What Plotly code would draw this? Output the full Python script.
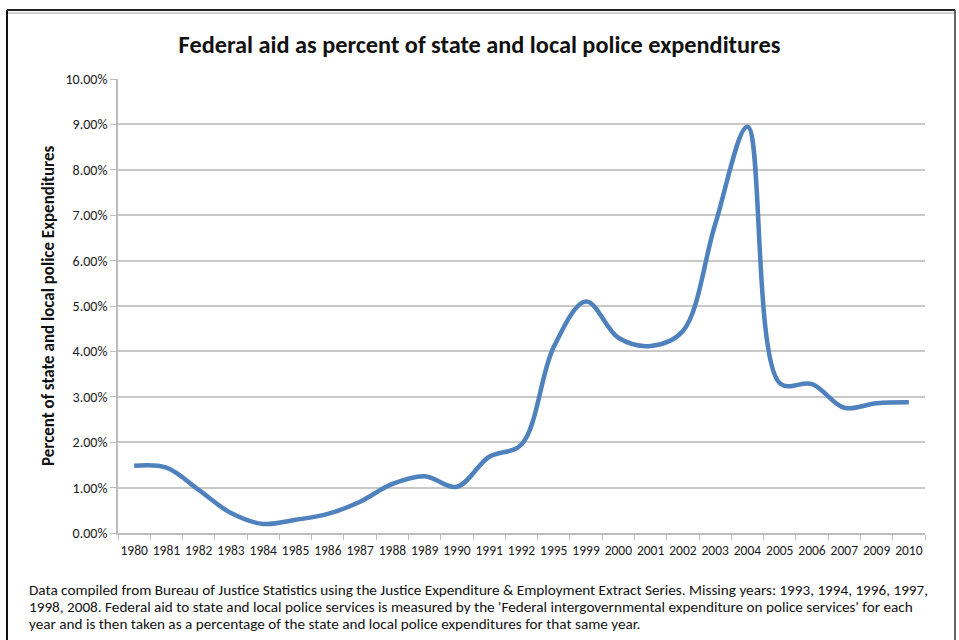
import plotly.graph_objects as go

# ---- data ----
years = ["1980", "1981", "1982", "1983", "1984", "1985", "1986", "1987", "1988",
         "1989", "1990", "1991", "1992", "1995", "1999", "2000", "2001", "2002",
         "2003", "2004", "2005", "2006", "2007", "2009", "2010"]
aid_pct = [1.48, 1.44, 0.95, 0.44, 0.20, 0.29, 0.42, 0.69, 1.08,
           1.25, 1.02, 1.68, 1.95, 4.10, 5.10, 4.30, 4.12, 4.45,
           6.80, 8.95, 3.30, 3.28, 2.76, 2.86, 2.88]

title_text = "Federal aid as percent of state and local police expenditures"
ytitle_text = "Percent of state and local police Expenditures"
caption_lines = [
    "Data compiled from Bureau of Justice Statistics using the Justice Expenditure &amp; Employment Extract Series. Missing years: 1993, 1994, 1996, 1997,",
    "1998, 2008. Federal aid to state and local police services is measured by the 'Federal intergovernmental expenditure on police services' for each",
    "year and is then taken as a percentage of the state and local police expenditures for that same year.",
]

# ---- layout geometry ----
W, H = 959, 640
L, R, T, B = 118, 34, 79, 107
PW, PH = W - L - R, H - T - B

def px(x):
    return (x - L) / PW

def py(y):
    return 1 - (y - T) / PH

FONT = "Carlito, 'Liberation Sans Narrow', 'Open Sans', sans-serif"

fig = go.Figure()
fig.add_trace(go.Scatter(
    x=years, y=aid_pct, mode="lines",
    line=dict(color="#4F81BD", width=4.5, shape="spline", smoothing=1),
    hoverinfo="x+y", showlegend=False,
))

shapes = [
    # outer frame
    dict(type="line", xref="paper", yref="paper", x0=px(7), x1=px(7), y0=py(10), y1=py(645),
         line=dict(color="#111111", width=2)),
    dict(type="line", xref="paper", yref="paper", x0=px(7), x1=px(955), y0=py(10), y1=py(10),
         line=dict(color="#222222", width=2)),
    dict(type="line", xref="paper", yref="paper", x0=px(8), x1=px(955), y0=py(13), y1=py(13),
         line=dict(color="#cfcfcf", width=2)),
    dict(type="line", xref="paper", yref="paper", x0=px(955), x1=px(955), y0=py(10), y1=py(645),
         line=dict(color="#333333", width=1.5)),
]

annotations = [
    dict(text="<b>" + ytitle_text + "</b>", xref="paper", yref="paper",
         x=px(48), y=py(306), textangle=-90, showarrow=False,
         font=dict(family=FONT, size=17, color="#111111"),
         xanchor="center", yanchor="middle"),
]
for i, line in enumerate(caption_lines):
    annotations.append(dict(
        text=line, xref="paper", yref="paper", x=px(27), y=py(590 + 17 * i),
        xanchor="left", yanchor="middle", showarrow=False, align="left",
        font=dict(family=FONT, size=15.2, color="#111111"),
    ))

fig.update_layout(
    width=W, height=H, autosize=False,
    margin=dict(l=L, r=R, t=T, b=B),
    paper_bgcolor="white", plot_bgcolor="white",
    title=dict(text="<b>" + title_text + "</b>", xref="container", yref="container",
               x=0.5, y=1 - 44 / H, xanchor="center", yanchor="middle",
               font=dict(family=FONT, size=24.3, color="#111111")),
    font=dict(family=FONT, size=14, color="#222222"),
    shapes=shapes, annotations=annotations,
    xaxis=dict(type="category", range=[-0.5, len(years) - 0.5],
               showgrid=False, showline=True, linecolor="#bdbdbd",
               linewidth=1.5, ticks="outside", tickson="boundaries", ticklen=5,
               tickcolor="#bdbdbd", tickangle=0, ticklabelstandoff=4,
               tickfont=dict(family=FONT, size=13.5, color="#1a1a1a"),
               zeroline=False, fixedrange=True),
    yaxis=dict(range=[0, 10], dtick=1, tickformat=".2f", ticksuffix="%",
               showgrid=True, gridcolor="#c8c8c8", gridwidth=1.5,
               showline=True, linecolor="#bdbdbd", linewidth=1.5,
               ticks="outside", ticklen=6, tickcolor="#bdbdbd",
               tickfont=dict(family=FONT, size=14, color="#1a1a1a"),
               zeroline=False, fixedrange=True),
)

fig.write_html("out.html", config={"displayModeBar": False},
               post_script="document.body.style.margin='0';document.body.style.padding='0';")
